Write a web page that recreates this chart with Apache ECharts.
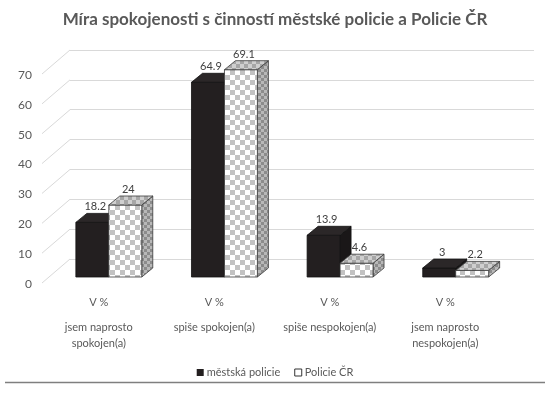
<!DOCTYPE html>
<html><head><meta charset="utf-8">
<script src="https://cdn.jsdelivr.net/npm/echarts@6/dist/echarts.min.js"></script>
<style>html,body{margin:0;padding:0;background:#fff}#c{width:550px;height:397px}</style>
</head><body><div id="c"></div>
<script>
// ---- data ----
const categories = ['jsem naprosto\nspokojen(a)', 'spiše spokojen(a)', 'spiše nespokojen(a)', 'jsem naprosto\nnespokojen(a)'];
const subLabel = 'V %';
const seriesNames = ['městská policie', 'Policie ČR'];
const mestskaPolicie = [18.2, 64.9, 13.9, 3];
const policieCR = [24, 69.1, 4.6, 2.2];
const yTicks = [0, 10, 20, 30, 40, 50, 60, 70];
const titleText = 'Míra spokojenosti s činností městské policie a Policie ČR';

// ---- patterns ----
function makePattern(bg, fg, size, rects) {
  const cv = document.createElement('canvas');
  cv.width = size; cv.height = size;
  const g = cv.getContext('2d');
  g.fillStyle = bg; g.fillRect(0, 0, size, size);
  g.fillStyle = fg;
  rects.forEach(r => g.fillRect(r[0], r[1], r[2], r[3]));
  return { image: cv, repeat: 'repeat' };
}
const checkFront = makePattern('#ffffff', '#c2c2c2', 10, [[0,0,5,5],[5,5,5,5]]);
const checkTop = makePattern('#a6a6a6', '#cfcfcf', 8, [[0,0,4,4],[4,4,4,4]]);
const checkSide = makePattern('#8c8c8c', '#b8b8b8', 6, [[0,0,3,3],[3,3,3,3]]);

const FONT = 'Lato, "Open Sans", sans-serif';
const DX = 11, DY = -9;

function bar3d(which) {
  return function (params, api) {
    const cat = api.value(0), val = api.value(1);
    const top = api.coord([cat, val]);
    const base = api.coord([cat, 0]);
    const bw = api.size([1, 0])[0] * 0.285;
    const x0 = which === 0 ? top[0] - bw : top[0];
    const x1 = x0 + bw;
    const yt = top[1], yb = base[1];
    const isBlack = which === 0;
    const stroke = isBlack ? '#111' : '#3a3a3a';
    return {
      type: 'group',
      children: [
        { type: 'polygon', shape: { points: [[x1, yt], [x1 + DX, yt + DY], [x1 + DX, yb + DY], [x1, yb]] },
          style: { fill: isBlack ? '#1a1718' : checkSide, stroke: stroke, lineWidth: 0.8 } },
        { type: 'rect', shape: { x: x0, y: yt, width: bw, height: yb - yt },
          style: { fill: isBlack ? '#231f20' : checkFront, stroke: stroke, lineWidth: 0.8 } },
        { type: 'polygon', shape: { points: [[x0, yt], [x0 + DX, yt + DY], [x1 + DX, yt + DY], [x1, yt]] },
          style: { fill: isBlack ? '#2b2728' : checkTop, stroke: stroke, lineWidth: 0.8 } },
        { type: 'text', x: x0 + bw / 2 + 3, y: yt + DY - 1,
          style: { text: String(val), fill: '#404040', font: '11px ' + FONT, align: 'center', verticalAlign: 'bottom' } }
      ]
    };
  };
}

const chart = echarts.init(document.getElementById('c'), null, { renderer: 'canvas' });
chart.setOption({
  animation: false,
  backgroundColor: '#ffffff',
  title: { text: titleText, left: 'center', top: 6,
    textStyle: { fontFamily: FONT, fontSize: 17, fontWeight: 'bold', color: '#595959' } },
  legend: {
    bottom: 14, left: 'center', itemWidth: 7, itemHeight: 7, itemGap: 14, icon: 'rect',
    textStyle: { fontFamily: FONT, fontSize: 11, color: '#595959', padding: [0, 0, 0, -2] },
    data: [
      { name: seriesNames[0], itemStyle: { color: '#231f20', borderColor: '#231f20' } },
      { name: seriesNames[1], itemStyle: { color: '#ffffff', borderColor: '#333', borderWidth: 1 } }
    ]
  },
  grid: [
    { left: 70, right: 16, top: 50, height: 209 },   // back wall
    { left: 40, right: 16, top: 75, height: 209 },   // front label plane
    { left: 51, right: 36.5, top: 67, height: 210 },  // bars
    { left: 41, right: 47, top: 60, height: 230 }     // category labels
  ],
  xAxis: [
    { gridIndex: 0, type: 'value', min: 0, max: 1, show: false },
    { gridIndex: 1, type: 'value', min: 0, max: 1, show: false },
    { gridIndex: 2, type: 'category', data: categories, show: false },
    { gridIndex: 3, type: 'category', data: categories,
      axisLine: { show: false }, axisTick: { show: false },
      axisLabel: { margin: 5, interval: 0,
        formatter: function (v) {
          const lines = v.split('\n').map(s => '{b|' + s + '}').join('\n');
          return '{a|' + subLabel + '}\n{s| }\n' + lines;
        },
        rich: {
          a: { fontFamily: FONT, fontSize: 11, color: '#595959', lineHeight: 14 },
          s: { fontSize: 4, lineHeight: 10 },
          b: { fontFamily: FONT, fontSize: 11, color: '#595959', lineHeight: 16 }
        }
      } }
  ],
  yAxis: [
    { gridIndex: 0, type: 'value', min: 0, max: 70, interval: 10,
      axisLabel: { show: false }, axisLine: { show: false }, axisTick: { show: false },
      splitLine: { lineStyle: { color: '#d9d9d9', width: 1 } } },
    { gridIndex: 1, type: 'value', min: 0, max: 70, interval: 10,
      axisLine: { show: false }, axisTick: { show: false }, splitLine: { show: false },
      axisLabel: { margin: 8, fontFamily: FONT, fontSize: 12, color: '#595959' } },
    { gridIndex: 2, type: 'value', min: 0, max: 70, show: false },
    { gridIndex: 3, type: 'value', show: false }
  ],
  series: [
    { type: 'custom', name: 'slant', xAxisIndex: 0, yAxisIndex: 0, silent: true,
      data: yTicks.map(v => [0, v]), encode: { x: 0, y: 1 },
      renderItem: function (params, api) {
        const p = api.coord([0, api.value(1)]);
        return { type: 'line', shape: { x1: p[0] - 28, y1: p[1] + 24, x2: p[0], y2: p[1] },
          style: { stroke: '#d9d9d9', lineWidth: 1 } };
      } },
    { type: 'custom', name: seriesNames[0], xAxisIndex: 2, yAxisIndex: 2, clip: false,
      itemStyle: { color: '#231f20' },
      data: mestskaPolicie.map((v, i) => [i, v]), encode: { x: 0, y: 1 }, renderItem: bar3d(0) },
    { type: 'custom', name: seriesNames[1], xAxisIndex: 2, yAxisIndex: 2, clip: false,
      itemStyle: { color: '#ffffff', borderColor: '#333' },
      data: policieCR.map((v, i) => [i, v]), encode: { x: 0, y: 1 }, renderItem: bar3d(1) }
  ],
  graphic: [
    { type: 'line', shape: { x1: 5, y1: 382.5, x2: 545, y2: 382.5 }, style: { stroke: '#7f7f7f', lineWidth: 1.5 } }
  ]
});
</script></body></html>
